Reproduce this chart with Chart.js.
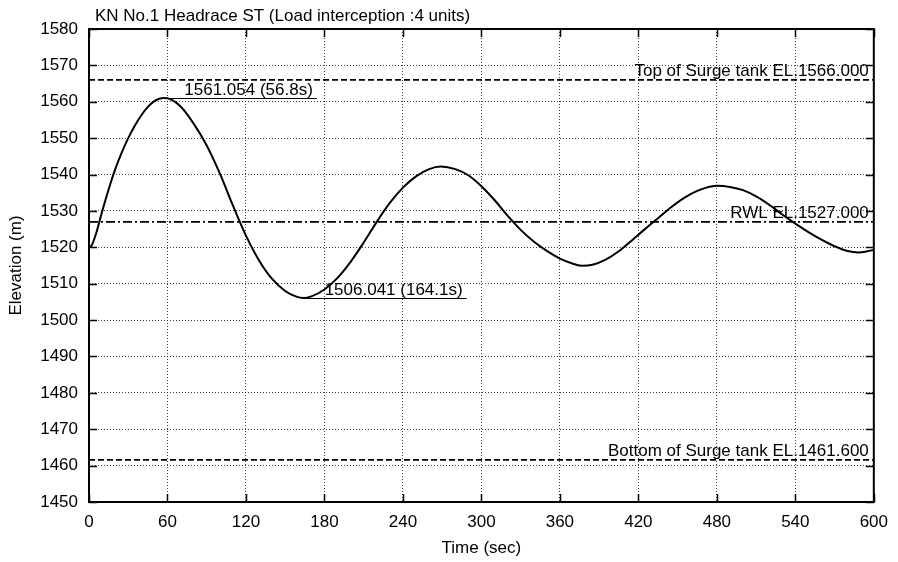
<!DOCTYPE html>
<html>
<head>
<meta charset="utf-8">
<script src="https://cdn.jsdelivr.net/npm/chart.js@4.4.1/dist/chart.umd.min.js"></script>
<style>
  html, body { margin: 0; padding: 0; background: #fff; }
  canvas { display: block; }
</style>
</head>
<body>
<canvas id="c" width="898" height="562"></canvas>
<script>
// ---- data ----
const chartTitle = 'KN No.1 Headrace ST (Load interception :4 units)';
const xAxisTitle = 'Time (sec)';
const yAxisTitle = 'Elevation (m)';

const times = [0, 2, 5, 10, 15, 20, 25, 30, 35, 40, 45, 50, 56.8,
  60, 70, 80, 90, 100, 110, 120, 130, 140, 150, 158, 164.1,
  170, 180, 190, 200, 210, 220, 230, 240, 250, 260, 269,
  280, 290, 300, 310, 320, 330, 340, 350, 360, 370, 377,
  385, 395, 405, 415, 425, 435, 445, 455, 465, 472, 480,
  490, 500, 510, 520, 530, 540, 550, 560, 570, 580, 588, 595, 600];
const elevations = [1520.0, 1520.5, 1523.3, 1529.8, 1535.9, 1541.4, 1546.0, 1550.0, 1553.4, 1556.3, 1558.6, 1560.2, 1561.054,
  1560.95, 1558.7, 1554.0, 1548.0, 1540.3, 1531.5, 1523.2, 1516.4, 1511.3, 1508.0, 1506.5, 1506.041,
  1506.5, 1508.4, 1511.6, 1516.0, 1521.3, 1527.0, 1532.2, 1536.4, 1539.5, 1541.5, 1542.2,
  1541.5, 1539.8, 1536.8, 1533.0, 1528.7, 1524.8, 1521.6, 1519.0, 1516.9, 1515.5, 1514.9,
  1515.2, 1516.6, 1518.9, 1521.9, 1525.0, 1528.0, 1531.0, 1533.6, 1535.5, 1536.4, 1536.9,
  1536.6, 1535.7, 1534.0, 1531.7, 1529.0, 1526.5, 1524.2, 1522.1, 1520.3, 1519.0, 1518.6, 1518.9, 1519.3];

const levelNames = ['Top of Surge tank EL.1566.000', 'RWL EL.1527.000', 'Bottom of Surge tank EL.1461.600'];
const levelValues = [1566.0, 1527.0, 1461.6];

const extremeTimes = [56.8, 164.1];
const extremeValues = [1561.054, 1506.041];
const extremeLabels = ['1561.054 (56.8s)', '1506.041 (164.1s)'];

const xTicks = [0, 60, 120, 180, 240, 300, 360, 420, 480, 540, 600];
const yTicks = [1450, 1460, 1470, 1480, 1490, 1500, 1510, 1520, 1530, 1540, 1550, 1560, 1570, 1580];

// ---- chart ----
const FAMILY = '"Liberation Sans", Arial, sans-serif';
const FONT = '17px ' + FAMILY;
const levelDashes = [[6, 3], [9, 3, 2, 3], [6, 3]];

const datasets = [{
  data: times.map((t, i) => ({ x: t, y: elevations[i] })),
  borderColor: '#000',
  borderWidth: 2,
  pointRadius: 0,
  cubicInterpolationMode: 'monotone',
  fill: false
}];
levelValues.forEach((v, i) => {
  datasets.push({
    data: [{ x: xTicks[0], y: v }, { x: xTicks[xTicks.length - 1], y: v }],
    borderColor: '#000',
    borderWidth: 1.8,
    borderDash: levelDashes[i],
    pointRadius: 0,
    fill: false
  });
});

const decor = {
  id: 'decor',
  afterDraw(chart) {
    const { ctx, chartArea: a, scales: { x, y } } = chart;
    ctx.save();
    // frame
    ctx.strokeStyle = '#000';
    ctx.lineWidth = 2;
    ctx.strokeRect(a.left, a.top, a.right - a.left, a.bottom - a.top);
    // inward ticks (mirrored)
    ctx.lineWidth = 1.5;
    ctx.beginPath();
    xTicks.forEach(t => {
      const px = Math.round(x.getPixelForValue(t)) + 0.5;
      ctx.moveTo(px, a.bottom); ctx.lineTo(px, a.bottom - 8);
      ctx.moveTo(px, a.top); ctx.lineTo(px, a.top + 8);
    });
    yTicks.forEach(v => {
      const py = Math.round(y.getPixelForValue(v)) + 0.5;
      ctx.moveTo(a.left, py); ctx.lineTo(a.left + 8, py);
      ctx.moveTo(a.right, py); ctx.lineTo(a.right - 8, py);
    });
    ctx.stroke();

    ctx.fillStyle = '#000';
    ctx.font = FONT;
    // level labels
    ctx.textAlign = 'right';
    ctx.textBaseline = 'alphabetic';
    levelValues.forEach((v, i) => {
      ctx.fillText(levelNames[i], a.right - 5, y.getPixelForValue(v) - 4);
    });
    // extreme annotations
    ctx.textAlign = 'left';
    ctx.lineWidth = 1;
    extremeTimes.forEach((t, i) => {
      const px = x.getPixelForValue(t);
      const py = y.getPixelForValue(extremeValues[i]);
      const tx = px + 21;
      const w = ctx.measureText(extremeLabels[i]).width;
      ctx.fillText(extremeLabels[i], tx, py - 3);
      ctx.beginPath();
      ctx.moveTo(px, Math.round(py) + 0.5);
      ctx.lineTo(tx + w + 4, Math.round(py) + 0.5);
      ctx.stroke();
    });
    // title
    ctx.textAlign = 'left';
    ctx.fillText(chartTitle, 95, 21);
    // axis titles
    ctx.textAlign = 'center';
    ctx.textBaseline = 'middle';
    ctx.fillText(xAxisTitle, (a.left + a.right) / 2, 548);
    ctx.save();
    ctx.translate(16, (a.top + a.bottom) / 2);
    ctx.rotate(-Math.PI / 2);
    ctx.fillText(yAxisTitle, 0, 0);
    ctx.restore();
    ctx.restore();
  }
};

new Chart(document.getElementById('c'), {
  type: 'line',
  data: { datasets },
  options: {
    responsive: false,
    animation: false,
    layout: { padding: { left: 0, top: 29, right: 20, bottom: 0 } },
    plugins: { legend: { display: false }, tooltip: { enabled: false }, title: { display: false } },
    scales: {
      x: {
        type: 'linear',
        min: 0, max: 600,
        afterBuildTicks: s => { s.ticks = xTicks.map(v => ({ value: v })); },
        afterFit: s => { s.height = 60; },
        grid: { color: 'rgba(0,0,0,0.75)', lineWidth: 1, drawTicks: false },
        border: { display: false, dash: [1, 2] },
        ticks: { color: '#000', font: { family: FAMILY, size: 17 }, padding: 10, maxRotation: 0,
                 callback: v => String(v) }
      },
      y: {
        type: 'linear',
        min: 1450, max: 1580,
        afterBuildTicks: s => { s.ticks = yTicks.map(v => ({ value: v })); },
        afterFit: s => { s.width = 89; },
        grid: { color: 'rgba(0,0,0,0.75)', lineWidth: 1, drawTicks: false },
        border: { display: false, dash: [1, 2] },
        ticks: { color: '#000', font: { family: FAMILY, size: 17 }, padding: 11,
                 callback: v => String(v) }
      }
    }
  },
  plugins: [decor]
});
</script>
</body>
</html>
